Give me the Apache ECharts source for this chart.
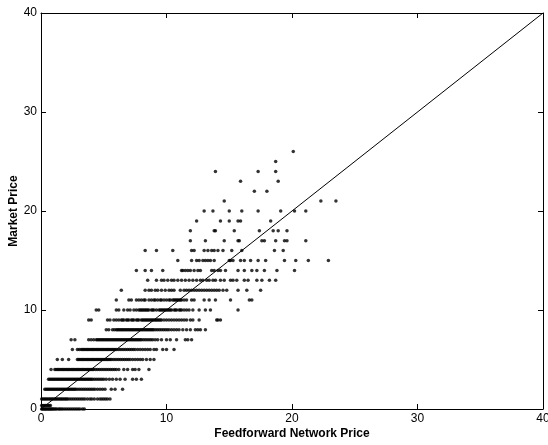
<!DOCTYPE html>
<html>
<head>
<meta charset="utf-8">
<script src="https://cdn.jsdelivr.net/npm/echarts@6/dist/echarts.min.js"></script>
<style>
html,body{margin:0;padding:0;background:#fff;}
#chart{width:548px;height:445px;}
</style>
</head>
<body>
<div id="chart"></div>
<script>
// Tick labels
const xTicks = [0, 10, 20, 30, 40];
const yTicks = [0, 10, 20, 30, 40];
// Diagonal reference line (perfect prediction)
const diagX = [0, 40];
const diagY = [0, 40];

// Market price bands and the feedforward network prices observed at each
const marketPrices = [0, 0.35, 1, 2, 3, 4, 5, 6, 7, 8, 9, 10, 11, 12, 13, 14, 15, 16, 17, 18, 19, 20, 21, 22, 23, 24, 25, 26];
const band0 = [0.05,0.12,0.2,0.28,0.35,0.42,0.5,0.58,0.65,0.72,0.8,0.88,0.95,1.05,1.15,1.25,1.4,1.5,1.62,1.75,1.9,2.05,2.2,2.35,2.5,2.65,2.8,2.95,3.1,3.3,3.45];
const bandLow = [0.05,0.15,0.25,0.35,0.45,0.55,0.65,0.75];
const band1 = [0.05,0.15,0.25,0.35,0.45,0.55,0.65,0.75,0.85,0.95,1.05,1.15,1.25,1.35,1.45,1.55,1.65,1.75,1.85,1.95,2.05,2.15,2.3,2.45,2.6,2.75,2.9,3.05,3.2,3.35,3.5,3.7,3.9,4.05,4.25,4.5,4.7,4.85,5.0,5.15,5.3,5.5];
const band2 = [0.3,0.4,0.5,0.6,0.7,0.8,0.9,1.0,1.1,1.2,1.3,1.4,1.5,1.6,1.7,1.8,1.9,2.0,2.1,2.2,2.3,2.4,2.5,2.6,2.7,2.8,2.95,3.1,3.25,3.4,3.55,3.7,3.85,4.0,4.15,4.3,4.5,4.7,4.9,5.1,5.6,5.9,6.5];
const band3 = [0.6,0.7,0.8,0.9,1.0,1.1,1.2,1.3,1.4,1.5,1.6,1.7,1.8,1.9,2.0,2.1,2.2,2.3,2.4,2.5,2.6,2.7,2.8,2.9,3.0,3.1,3.2,3.3,3.4,3.5,3.6,3.7,3.8,3.9,4.0,4.1,4.25,4.4,4.55,4.7,4.85,5.0,5.2,5.45,5.7,6.0,6.3,6.7,7.3,7.6,8.0];
const band4 = [0.8,1.1,1.2,1.3,1.4,1.5,1.6,1.7,1.8,1.9,2.0,2.1,2.2,2.3,2.4,2.5,2.6,2.7,2.8,2.9,3.0,3.1,3.2,3.3,3.4,3.5,3.6,3.7,3.8,3.9,4.0,4.1,4.2,4.35,4.5,4.65,4.8,4.95,5.1,5.25,5.4,5.55,5.7,5.85,6.0,6.2,6.6,6.9,7.3,7.5,7.8,8.6];
const band5 = [1.3,1.7,2.2,2.9,3.0,3.1,3.2,3.3,3.4,3.5,3.6,3.7,3.8,3.9,4.0,4.1,4.2,4.3,4.4,4.5,4.6,4.7,4.8,4.9,5.0,5.1,5.2,5.3,5.4,5.5,5.6,5.75,5.9,6.05,6.2,6.35,6.5,6.65,6.8,6.95,7.1,7.3,7.5,7.7,7.9,8.1,8.4,8.7,9.0];
const band6 = [2.5,2.9,3.05,3.2,3.3,3.4,3.5,3.6,3.7,3.8,3.9,4.0,4.1,4.2,4.3,4.4,4.5,4.6,4.7,4.8,4.9,5.0,5.1,5.2,5.3,5.4,5.5,5.6,5.7,5.8,5.9,6.0,6.15,6.3,6.45,6.6,6.75,6.9,7.05,7.2,7.35,7.5,7.7,7.9,8.1,8.3,8.5,8.7,9.0,9.2,9.7,10.0,10.6];
const band7 = [2.4,2.7,3.8,4.0,4.2,4.4,4.5,4.6,4.7,4.8,4.9,5.0,5.1,5.2,5.3,5.4,5.5,5.6,5.7,5.8,5.9,6.0,6.1,6.2,6.3,6.4,6.5,6.6,6.7,6.8,6.9,7.0,7.1,7.2,7.3,7.4,7.5,7.6,7.7,7.8,7.9,8.0,8.15,8.3,8.45,8.6,8.75,8.9,9.1,9.3,9.6,10.0,10.3,10.8,11.5,11.7,12.0];
const band8 = [5.2,5.4,5.7,5.85,6.0,6.1,6.2,6.3,6.4,6.5,6.6,6.7,6.8,6.9,7.0,7.1,7.2,7.3,7.4,7.5,7.6,7.7,7.8,7.9,8.0,8.1,8.2,8.3,8.4,8.5,8.6,8.7,8.8,8.9,9.0,9.15,9.3,9.45,9.6,9.75,9.9,10.05,10.2,10.4,10.6,10.8,11.0,11.3,11.6,11.9,12.3,12.5,12.7,13.1];
const band9 = [3.8,4.0,5.3,5.5,5.8,6.0,6.2,6.4,6.5,6.6,6.8,6.9,7.0,7.2,7.3,7.4,7.6,7.7,7.8,8.0,8.1,8.2,8.3,8.4,8.5,8.6,8.7,8.8,8.9,9.0,9.1,9.2,9.3,9.4,9.5,9.6,9.8,10.0,10.2,10.4,10.6,10.8,11.0,11.2,11.4,11.6,11.9,12.1,12.6,14.0,14.1,14.3];
const band10 = [4.4,4.6,6.0,6.2,6.6,6.9,7.1,7.4,7.6,7.8,7.9,8.0,8.1,8.2,8.3,8.4,8.5,8.6,8.8,8.9,9.0,9.2,9.4,9.5,9.6,9.7,9.8,9.9,10.0,10.1,10.2,10.3,10.4,10.6,10.7,10.8,11.0,11.1,11.2,11.4,11.6,11.8,12.1,12.6,13.1,13.5,15.7];
const band11 = [6.0,7.0,7.2,7.6,7.8,8.0,8.2,8.3,8.6,8.8,9.0,9.1,9.3,9.5,9.6,9.8,10.0,10.2,10.3,10.5,10.6,10.7,10.8,10.9,11.0,11.1,11.2,11.4,11.6,12.0,12.2,13.0,13.4,13.9,15.1,16.6,16.8];
const band12 = [6.4,8.3,8.6,8.8,9.1,9.3,9.6,9.9,10.2,10.4,10.6,11.1,11.4,11.6,11.8,12.0,12.2,12.4,12.6,12.8,13.0,13.2,13.4,13.6,13.8,14.0,14.2,14.5,14.8,15.7,16.4,17.5];
const band13 = [8.5,9.2,9.6,9.8,10.1,10.4,10.6,10.9,11.2,11.5,11.8,12.1,12.4,12.7,12.9,13.2,13.4,13.7,13.9,14.3,14.6,15.1,15.3,15.6,16.2,16.5,17.2,17.6,18.2,18.7];
const band14 = [7.6,8.3,8.8,9.7,11.2,11.3,11.5,11.7,11.9,12.2,12.5,12.7,13.6,13.8,14.1,14.3,14.7,15.7,16.2,16.8,17.2,17.8,18.8,20.2];
const band15 = [10.9,12.0,12.4,12.6,12.9,13.1,13.3,13.5,13.8,15.0,15.1,15.3,15.9,16.2,16.7,17.3,17.9,19.4,20.3,21.3,22.9];
const band16 = [8.3,9.2,10.5,12.0,12.2,13.0,13.3,13.6,13.8,14.1,14.5,15.2,16.0,18.6,19.3];
const band17 = [11.9,13.1,14.6,15.7,15.8,17.6,17.8,18.7,19.4,19.6,21.1];
const band18 = [11.9,13.8,13.9,15.4,17.4,18.5,18.9,19.6];
const band19 = [12.4,14.3,15.0,15.7,15.9,18.3];
const band20 = [13.0,13.7,15.0,16.0,17.3,19.1,20.2,21.1];
const band21 = [14.6,22.3,23.5];
const band22 = [17.0,18.0];
const band23 = [15.9,18.9];
const band24 = [13.9,17.3,18.7];
const band25 = [18.7];
const band26 = [20.1];
const bandList = [band0, bandLow, band1, band2, band3, band4, band5, band6, band7, band8, band9, band10, band11, band12, band13, band14, band15, band16, band17, band18, band19, band20, band21, band22, band23, band24, band25, band26];

const points = [];
bandList.forEach((xs, i) => xs.forEach(x => points.push([x, marketPrices[i]])));

const FONT = '"Liberation Sans", Arial, Helvetica, sans-serif';
const chart = echarts.init(document.getElementById('chart'), null, {renderer: 'canvas'});
function axisBase() {
  return {
    type: 'value', min: 0, max: 40, interval: 10,
    axisLine: {show: true, onZero: false, lineStyle: {color: '#000', width: 1}},
    axisTick: {show: true, inside: true, length: 5, lineStyle: {color: '#000'}},
    splitLine: {show: false}
  };
}
chart.setOption({
  animation: false,
  backgroundColor: '#fff',
  grid: {left: 41, top: 13, right: 5, bottom: 36, containLabel: false, outerBoundsMode: 'none'},
  xAxis: [
    Object.assign(axisBase(), {
      position: 'bottom',
      name: 'Feedforward Network Price', nameLocation: 'middle', nameGap: 19,
      nameMoveOverlap: false,
      nameTextStyle: {color: '#000', fontFamily: FONT, fontWeight: 'bold', fontSize: 12},
      axisLabel: {color: '#000', fontFamily: FONT, fontSize: 12, margin: 4,
        formatter: v => xTicks.includes(v) ? String(v) : ''}
    }),
    Object.assign(axisBase(), {position: 'top', axisLabel: {show: false}})
  ],
  yAxis: [
    Object.assign(axisBase(), {
      position: 'left',
      name: 'Market Price', nameLocation: 'middle', nameGap: 21,
      nameMoveOverlap: false,
      nameTextStyle: {color: '#000', fontFamily: FONT, fontWeight: 'bold', fontSize: 12},
      axisLabel: {color: '#000', fontFamily: FONT, fontSize: 12, margin: 4,
        formatter: v => yTicks.includes(v) ? String(v) : ''}
    }),
    Object.assign(axisBase(), {position: 'right', axisLabel: {show: false}})
  ],
  series: [
    {
      type: 'scatter', xAxisIndex: 0, yAxisIndex: 0,
      data: points, symbol: 'circle', symbolSize: 3.5,
      itemStyle: {color: '#000'}, silent: true
    },
    {
      type: 'line', xAxisIndex: 0, yAxisIndex: 0,
      data: diagX.map((x, i) => [x, diagY[i]]),
      symbol: 'none', lineStyle: {color: '#000', width: 1}, silent: true
    }
  ]
});
</script>
</body>
</html>
